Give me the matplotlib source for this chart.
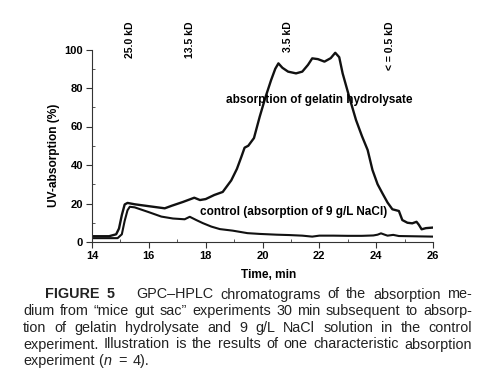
import matplotlib
matplotlib.use('Agg')
import matplotlib.pyplot as plt
from matplotlib.ticker import MultipleLocator

plt.rcParams['font.family'] = ['Liberation Sans', 'DejaVu Sans']

# chromatogram of gelatin hydrolysate absorption
gel_time = [14.0, 14.6, 14.85, 14.95, 15.05, 15.15, 15.25, 15.5, 16.0, 16.56, 16.8, 17.2,
            17.6, 17.8, 18.0, 18.3, 18.6, 18.9, 19.1, 19.25, 19.37, 19.5, 19.7, 19.9, 20.1,
            20.3, 20.45, 20.56, 20.7, 20.9, 21.18, 21.4, 21.6, 21.75, 21.95, 22.18, 22.4,
            22.56, 22.7, 22.82, 23.05, 23.29, 23.5, 23.7, 23.87, 24.05, 24.22, 24.4, 24.57,
            24.7, 24.8, 24.92, 25.1, 25.27, 25.42, 25.5, 25.6, 25.75, 26.0]
gel_uv = [3.0, 3.0, 4.0, 7.0, 14.0, 19.5, 20.3, 19.6, 18.6, 17.5, 18.8, 20.8,
          23.0, 21.8, 22.3, 24.4, 26.0, 32.0, 38.0, 44.0, 49.0, 50.0, 54.0, 65.0, 75.0,
          84.0, 90.0, 92.8, 90.5, 88.5, 87.6, 88.5, 92.0, 95.4, 95.0, 93.7, 95.5,
          98.3, 96.0, 87.6, 75.5, 63.4, 55.0, 47.8, 37.4, 30.0, 25.3, 20.5, 17.0,
          16.5, 16.1, 11.4, 10.0, 9.7, 10.5, 9.0, 6.6, 7.2, 7.5]

# control (9 g/L NaCl)
ctl_time = [14.0, 14.9, 15.05, 15.15, 15.25, 15.33, 15.5, 16.0, 16.44, 16.85, 17.26, 17.44,
            17.67, 17.9, 18.2, 18.5, 18.95, 19.47, 19.9, 20.5, 20.95, 21.4, 21.75, 22.0,
            22.5, 23.0, 23.5, 23.9, 24.05, 24.17, 24.3, 24.4, 24.6, 24.8, 25.2, 26.0]
ctl_uv = [2.0, 2.0, 4.0, 11.0, 16.5, 18.3, 18.0, 15.5, 13.2, 12.2, 11.8, 13.1,
          11.4, 9.8, 8.0, 6.7, 5.9, 4.6, 4.2, 3.8, 3.6, 3.3, 2.8, 3.3,
          3.3, 3.2, 3.2, 3.4, 3.8, 4.5, 3.8, 3.3, 3.7, 3.1, 3.0, 2.8]

# molecular weight markers
mw_labels = ['25.0 kD', '13.5 kD', '3.5 kD', '< = 0.5 kD']
mw_time = [15.33, 17.44, 20.9, 24.5]

caption_lines = [
    'GPC\u2013HPLC chromatograms of the absorption me-',
    'dium from \u201cmice gut sac\u201d experiments 30 min subsequent to absorp-',
    'tion of gelatin hydrolysate and 9 g/L NaCl solution in the control',
    'experiment. Illustration is the results of one characteristic absorption',
]

W, H = 500, 381
fig = plt.figure(figsize=(W / 100, H / 100), dpi=100)
ax = fig.add_axes([92 / W, 1 - 242 / H, 341 / W, 192.5 / H])

ink = '#111111'
ax.plot(gel_time, gel_uv, color=ink, lw=1.7, solid_joinstyle='round')
ax.plot(ctl_time, ctl_uv, color=ink, lw=1.5, solid_joinstyle='round')

ax.set_xlim(14, 26)
ax.set_ylim(0, 100)
for s in ['top', 'right']:
    ax.spines[s].set_visible(False)
for s in ['left', 'bottom']:
    ax.spines[s].set_linewidth(0.8)
    ax.spines[s].set_color('#333333')

ax.xaxis.set_major_locator(MultipleLocator(2))
ax.xaxis.set_minor_locator(MultipleLocator(1))
ax.yaxis.set_major_locator(MultipleLocator(20))
ax.yaxis.set_minor_locator(MultipleLocator(10))
ax.tick_params(which='major', length=4, width=0.8, pad=2.5, color='#333333',
               labelsize=8, direction='out')
ax.tick_params(which='minor', length=2.5, width=0.7, color='#555555', direction='in')
for lab in ax.get_xticklabels() + ax.get_yticklabels():
    lab.set_fontweight('bold')

ax.set_xlabel('Time, min', fontsize=8.6, fontweight='bold')
ax.xaxis.set_label_coords((269 - 92) / 341, -0.14)
ax.set_ylabel('UV-absorption (%)', fontsize=8.6, fontweight='bold')
ax.yaxis.set_label_coords(-0.094, 0.45)

for lab, t in zip(mw_labels, mw_time):
    ax.text(t, 114.8, lab, rotation=90, ha='center', va='top', fontsize=7.5,
            fontweight='bold', clip_on=False)

ax.text(18.7, 73.8, 'absorption of gelatin hydrolysate', fontsize=8.5,
        fontweight='bold', va='center', ha='left')
ax.text(17.79, 15.6, 'control (absorption of 9 g/L NaCl)', fontsize=8.5,
        fontweight='bold', va='center', ha='left')

# caption, justified by hand
cap_size = 10.4
cap_color = '#222222'
renderer = fig.canvas.get_renderer()


def text_width(s, **kw):
    t = fig.text(0, 0, s, fontsize=cap_size, **kw)
    w = t.get_window_extent(renderer).width / W
    t.remove()
    return w


space_w = text_width('a a') - 2 * text_width('a')


def put_words(words, x0, x1, y, justify=True, **kw):
    arts = [fig.text(0, y, w, fontsize=cap_size, color=cap_color, va='baseline', **kw)
            for w in words]
    widths = [a.get_window_extent(renderer).width / W for a in arts]
    gap = (x1 - x0 - sum(widths)) / (len(words) - 1) if justify else space_w
    x = x0
    for a, w in zip(arts, widths):
        a.set_x(x)
        x += w + gap
    return x


baselines = [298.5, 315.0, 331.8, 348.5, 365.0]
fig.text(45 / W, 1 - baselines[0] / H, 'FIGURE', fontsize=cap_size, color=cap_color,
         fontweight='bold', va='baseline')
fig.text(107 / W, 1 - baselines[0] / H, '5', fontsize=cap_size, color=cap_color,
         fontweight='bold', va='baseline')
put_words(caption_lines[0].split(' '), 136 / W, 472 / W, 1 - baselines[0] / H)
for line, b in zip(caption_lines[1:], baselines[1:]):
    put_words(line.split(' '), 23 / W, 472 / W, 1 - b / H)

yb = 1 - baselines[4] / H
x = put_words(['experiment', '('], 23 / W, 472 / W, yb, justify=False)
x -= space_w
t = fig.text(x, yb, 'n', fontsize=cap_size, color=cap_color, style='italic', va='baseline')
x += t.get_window_extent(renderer).width / W + space_w * 1.6
x = put_words(['='], x, 472 / W, yb, justify=False)
x += space_w * 0.6
put_words(['4).'], x, 472 / W, yb, justify=False)

fig.savefig('out.png', dpi=100)
